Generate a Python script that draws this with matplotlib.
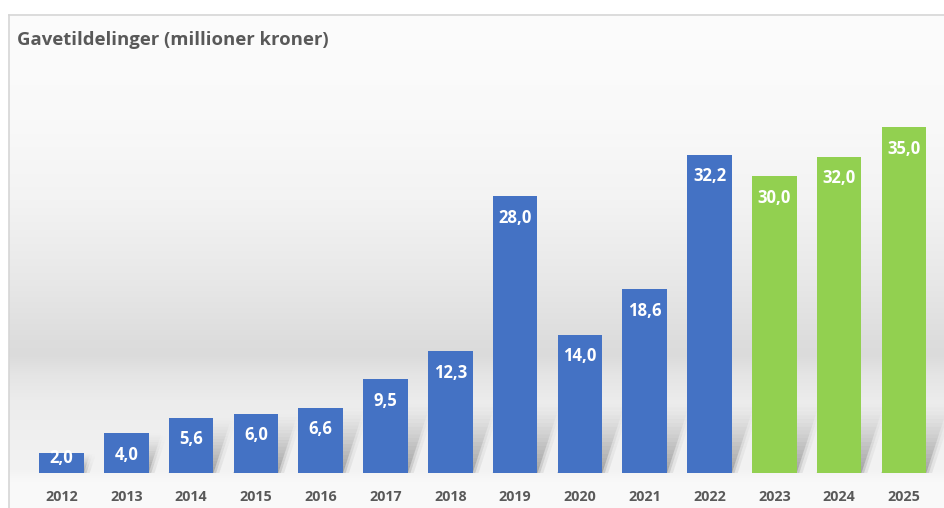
import numpy as np
import matplotlib
matplotlib.use("Agg")
import matplotlib.pyplot as plt
from matplotlib.patches import Polygon
from matplotlib.lines import Line2D

# ---- data ----
years = ["2012", "2013", "2014", "2015", "2016", "2017", "2018",
         "2019", "2020", "2021", "2022", "2023", "2024", "2025"]
values = [2.0, 4.0, 5.6, 6.0, 6.6, 9.5, 12.3, 28.0, 14.0, 18.6, 32.2, 30.0, 32.0, 35.0]
is_forecast = [False] * 11 + [True] * 3
title = "Gavetildelinger (millioner kroner)"

BLUE = "#4472C4"
GREEN = "#92D050"
GRAY_TXT = "#595959"
FONT = "Open Sans"

W, H = 944, 508
fig = plt.figure(figsize=(W / 100, H / 100), dpi=100)
fig.patch.set_facecolor("white")

# ---- gradient background of chart area ----
box_left, box_top = 9, 15
ax_bg = fig.add_axes([box_left / W, 0, 1 - box_left / W, (H - box_top) / H])
ax_bg.set_axis_off()
ys = np.arange(box_top, H)
stops_y = [15, 120, 200, 280, 340, 355, 375, 400, 440, 470, 482, 508]
stops_v = [252, 249, 243, 232, 221, 219, 229, 236, 240, 243, 249, 250]
g = np.interp(ys, stops_y, stops_v) / 255.0
img = np.repeat(g[:, None], 2, axis=1)
img = np.dstack([img, img, img])
ax_bg.imshow(img, aspect="auto", extent=[0, 1, 0, 1], origin="upper", interpolation="bilinear")

# border lines
fig.add_artist(Line2D([8.5 / W, 8.5 / W], [0, 1 - 14.5 / H], color="#d6d6d6", lw=1.2))
fig.add_artist(Line2D([8.5 / W, 1], [1 - 14.5 / H, 1 - 14.5 / H], color="#d6d6d6", lw=1.2))

# ---- main axes ----
base_px = 473
px_per_unit = 9.89
ax = fig.add_axes([box_left / W, (H - base_px) / H, 1 - box_left / W, (base_px - box_top) / H])
ax.set_facecolor("none")
ax.patch.set_alpha(0)
ax.set_ylim(0, (base_px - box_top) / px_per_unit)
spacing = 64.8
x0 = 61.5
ax.set_xlim((box_left - x0) / spacing, (W - x0) / spacing)
for s in ax.spines.values():
    s.set_visible(False)
ax.set_yticks([])

x = np.arange(len(years))
bw = 0.69
colors = [GREEN if f else BLUE for f in is_forecast]

# soft diagonal shadows (derived from bar geometry)
shear = 0.05
K = 18
for xi, v in zip(x, values):
    Hs = min(v, 7.0)
    xl, xr = xi - bw / 2, xi + bw / 2
    for k in range(K):
        y0 = k * Hs / K
        y1 = (k + 1) * Hs / K
        t = (k + 0.5) / K
        a = 0.42 * (1 - t) ** 1.4
        for blur, am in ((0.0, 1.0), (0.04, 0.55), (0.09, 0.3)):
            poly = Polygon([(xl + shear * y0, y0),
                            (xr + shear * y0 + blur, y0),
                            (xr + shear * y1 + blur, y1),
                            (xl + shear * y1, y1)],
                           closed=True, facecolor="#707070", edgecolor="none",
                           alpha=a * am, zorder=1)
            ax.add_patch(poly)

bars = ax.bar(x, values, width=bw, color=colors, zorder=3, edgecolor="none")

for xi, v in zip(x, values):
    ly = max(v - 2.2, 1.5)
    lab = f"{v:.1f}".replace(".", ",")
    ax.text(xi, ly, lab, ha="center", va="center", color="white",
            fontsize=12, fontweight="bold", family=FONT, zorder=4)

ax.set_xticks(x)
ax.set_xticklabels(years, fontsize=10.3, fontweight="bold", color=GRAY_TXT, family=FONT)
ax.tick_params(axis="x", length=0, pad=12)

fig.text(17 / W, 1 - 40 / H, title, ha="left", va="center", fontsize=13.3,
         fontweight="bold", color=GRAY_TXT, family=FONT)

fig.savefig("out.png", dpi=100)
